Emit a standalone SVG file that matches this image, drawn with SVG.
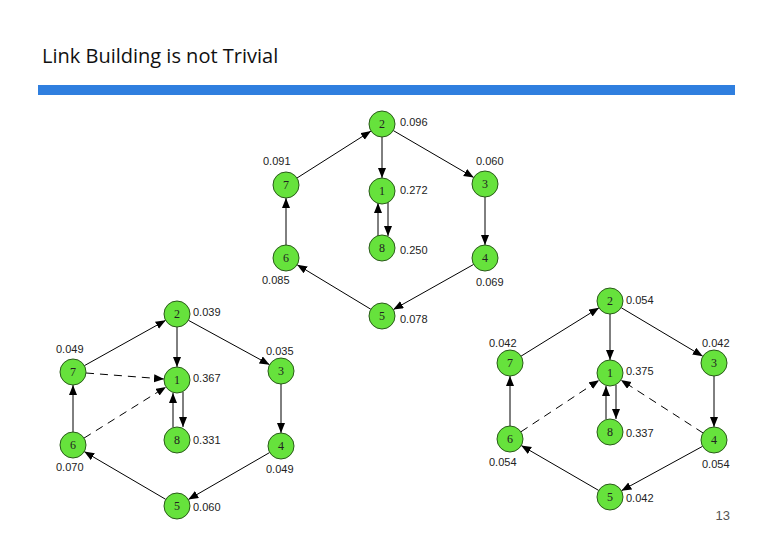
<svg xmlns="http://www.w3.org/2000/svg" width="780" height="540" viewBox="0 0 780 540">
<style>
.n circle{fill:#66e23c;stroke:#2a5a1a;stroke-width:1}
.n text{font-family:"Liberation Serif",serif;font-size:12px;text-anchor:middle;fill:#222}
.lb{font-family:"Liberation Sans",sans-serif;font-size:11px;fill:#222}
.e line{stroke:#000;stroke-width:1;marker-end:url(#ah)}
.e line.d{stroke-dasharray:8,6}
</style>
<defs><marker id="ah" markerUnits="userSpaceOnUse" markerWidth="11" markerHeight="9" refX="10" refY="4" orient="auto"><path d="M0,0 L10,4 L0,8 z" fill="#000"/></marker></defs>
<rect width="780" height="540" fill="#fff"/>
<text x="42" y="63" font-family="'Open Sans','Liberation Sans',sans-serif" font-size="20" fill="#111">Link Building is not Trivial</text>
<rect x="38" y="85" width="697" height="10" fill="#2f7fdf"/>
<text x="730" y="520" font-family="'Liberation Sans',sans-serif" font-size="13" fill="#555" text-anchor="end">13</text>
<g id="connectors" class="e">
<line x1="382" y1="137" x2="382" y2="178"/>
<line x1="393.2" y1="130.5" x2="473.8" y2="177.5"/>
<line x1="297" y1="178" x2="371" y2="131"/>
<line x1="485" y1="197" x2="485" y2="245"/>
<line x1="473.7" y1="264.4" x2="393.3" y2="309.6"/>
<line x1="370.9" y1="309.3" x2="297.1" y2="264.7"/>
<line x1="286" y1="245" x2="286" y2="198"/>
<line x1="378" y1="236" x2="378" y2="203"/>
<line x1="388" y1="202" x2="388" y2="236"/>
<line x1="177" y1="327" x2="177" y2="367"/>
<line x1="188.4" y1="320.3" x2="269.6" y2="364.7"/>
<line x1="84.3" y1="365.7" x2="165.7" y2="320.3"/>
<line x1="281" y1="384" x2="281" y2="433"/>
<line x1="269.7" y1="452.5" x2="188.3" y2="499.5"/>
<line x1="165.8" y1="499.4" x2="84.2" y2="451.6"/>
<line x1="73" y1="432" x2="73" y2="385"/>
<line x1="173" y1="427" x2="173" y2="393"/>
<line x1="183" y1="392" x2="183" y2="427"/>
<line class="d" x1="86" y1="373" x2="164" y2="379"/>
<line class="d" x1="84" y1="438.1" x2="166" y2="386.9"/>
<line x1="610" y1="314" x2="610" y2="360"/>
<line x1="621.2" y1="307.7" x2="702.8" y2="356.3"/>
<line x1="521" y1="356.2" x2="599" y2="307.8"/>
<line x1="714" y1="376" x2="714" y2="427"/>
<line x1="702.6" y1="446.3" x2="621.4" y2="490.7"/>
<line x1="598.8" y1="490.5" x2="521.2" y2="445.5"/>
<line x1="510" y1="426" x2="510" y2="376"/>
<line x1="606" y1="419" x2="606" y2="386"/>
<line x1="616" y1="385" x2="616" y2="419"/>
<line class="d" x1="520.9" y1="431.8" x2="599.1" y2="380.2"/>
<line class="d" x1="703.1" y1="433" x2="620.9" y2="380"/>
</g>
<g id="g1">
<g id="a2" class="n"><circle cx="382" cy="124" r="13"/><text x="382" y="128">2</text></g>
<g id="a7" class="n"><circle cx="286" cy="185" r="13"/><text x="286" y="189">7</text></g>
<g id="a1" class="n"><circle cx="382" cy="191" r="13"/><text x="382" y="195">1</text></g>
<g id="a3" class="n"><circle cx="485" cy="184" r="13"/><text x="485" y="188">3</text></g>
<g id="a6" class="n"><circle cx="286" cy="258" r="13"/><text x="286" y="262">6</text></g>
<g id="a8" class="n"><circle cx="382" cy="248" r="13"/><text x="382" y="252">8</text></g>
<g id="a4" class="n"><circle cx="485" cy="258" r="13"/><text x="485" y="262">4</text></g>
<g id="a5" class="n"><circle cx="382" cy="316" r="13"/><text x="382" y="320">5</text></g>
<text class="lb" x="400" y="126">0.096</text><text class="lb" x="263" y="165">0.091</text>
<text class="lb" x="476" y="165">0.060</text><text class="lb" x="400" y="194">0.272</text>
<text class="lb" x="400" y="254">0.250</text><text class="lb" x="262" y="284">0.085</text>
<text class="lb" x="476" y="286">0.069</text><text class="lb" x="400" y="323">0.078</text>
</g>
<g id="g2">
<g id="b2" class="n"><circle cx="177" cy="314" r="13"/><text x="177" y="318">2</text></g>
<g id="b7" class="n"><circle cx="73" cy="372" r="13"/><text x="73" y="376">7</text></g>
<g id="b1" class="n"><circle cx="177" cy="380" r="13"/><text x="177" y="384">1</text></g>
<g id="b3" class="n"><circle cx="281" cy="371" r="13"/><text x="281" y="375">3</text></g>
<g id="b6" class="n"><circle cx="73" cy="445" r="13"/><text x="73" y="449">6</text></g>
<g id="b8" class="n"><circle cx="177" cy="440" r="13"/><text x="177" y="444">8</text></g>
<g id="b4" class="n"><circle cx="281" cy="446" r="13"/><text x="281" y="450">4</text></g>
<g id="b5" class="n"><circle cx="177" cy="506" r="13"/><text x="177" y="510">5</text></g>
<text class="lb" x="193" y="316">0.039</text><text class="lb" x="56" y="353">0.049</text>
<text class="lb" x="266" y="355">0.035</text><text class="lb" x="193" y="382">0.367</text>
<text class="lb" x="193" y="444">0.331</text><text class="lb" x="56" y="471">0.070</text>
<text class="lb" x="266" y="473">0.049</text><text class="lb" x="193" y="511">0.060</text>
</g>
<g id="g3">
<g id="c2" class="n"><circle cx="610" cy="301" r="13"/><text x="610" y="305">2</text></g>
<g id="c7" class="n"><circle cx="510" cy="363" r="13"/><text x="510" y="367">7</text></g>
<g id="c1" class="n"><circle cx="610" cy="373" r="13"/><text x="610" y="377">1</text></g>
<g id="c3" class="n"><circle cx="714" cy="363" r="13"/><text x="714" y="367">3</text></g>
<g id="c6" class="n"><circle cx="510" cy="439" r="13"/><text x="510" y="443">6</text></g>
<g id="c8" class="n"><circle cx="610" cy="432" r="13"/><text x="610" y="436">8</text></g>
<g id="c4" class="n"><circle cx="714" cy="440" r="13"/><text x="714" y="444">4</text></g>
<g id="c5" class="n"><circle cx="610" cy="497" r="13"/><text x="610" y="501">5</text></g>
<text class="lb" x="626" y="304">0.054</text><text class="lb" x="489" y="347">0.042</text>
<text class="lb" x="702" y="347">0.042</text><text class="lb" x="626" y="375">0.375</text>
<text class="lb" x="626" y="437">0.337</text><text class="lb" x="489" y="466">0.054</text>
<text class="lb" x="702" y="468">0.054</text><text class="lb" x="626" y="502">0.042</text>
</g>
</svg>
